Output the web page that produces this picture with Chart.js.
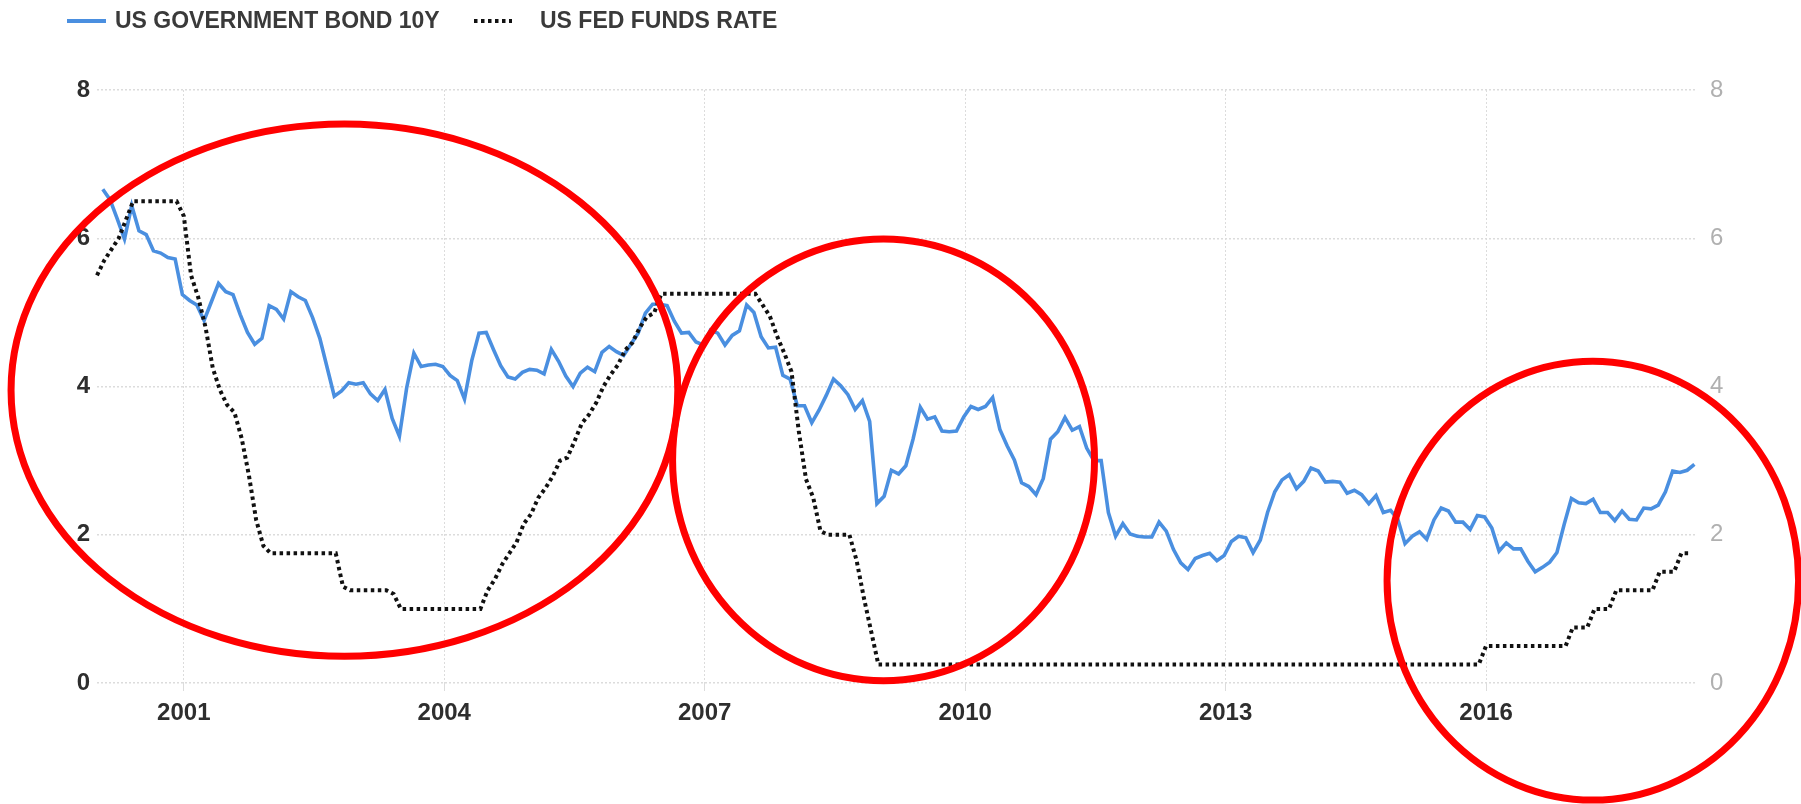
<!DOCTYPE html>
<html>
<head>
<meta charset="utf-8">
<script src="https://cdn.jsdelivr.net/npm/chart.js@4.4.1/dist/chart.umd.min.js"></script>
<style>
  html, body { margin: 0; padding: 0; background: #ffffff; }
  #wrap { width: 1801px; height: 804px; position: relative; }
  canvas { display: block; }
</style>
</head>
<body>
<div id="wrap"><canvas id="c" width="1801" height="804"></canvas></div>
<script>
// ---------- data ----------
const startYear = 2000;            // first month: Jan 2000, monthly values
const seriesNames = ['US GOVERNMENT BOND 10Y', 'US FED FUNDS RATE'];
const xTickLabels = ['2001', '2004', '2007', '2010', '2013', '2016'];
const yTickValues = [0, 2, 4, 6, 8];

// US 10Y government bond yield, monthly (Jan 2000 .. May 2018)
const bond10y = [
  6.66, 6.52, 6.26, 5.99, 6.44, 6.10, 6.05, 5.83, 5.80, 5.74, 5.72, 5.24,
  5.16, 5.10, 4.89, 5.14, 5.39, 5.28, 5.24, 4.97, 4.73, 4.57, 4.65, 5.09,
  5.04, 4.91, 5.28, 5.21, 5.16, 4.93, 4.65, 4.26, 3.87, 3.94, 4.05, 4.03,
  4.05, 3.90, 3.81, 3.96, 3.57, 3.33, 3.98, 4.45, 4.27, 4.29, 4.30, 4.27,
  4.15, 4.08, 3.83, 4.35, 4.72, 4.73, 4.50, 4.28, 4.13, 4.10, 4.19, 4.23,
  4.22, 4.17, 4.50, 4.34, 4.14, 4.00, 4.18, 4.26, 4.20, 4.46, 4.54, 4.47,
  4.42, 4.57, 4.72, 4.99, 5.11, 5.11, 5.09, 4.88, 4.72, 4.73, 4.60, 4.56,
  4.76, 4.72, 4.56, 4.69, 4.75, 5.10, 5.00, 4.67, 4.52, 4.53, 4.15, 4.10,
  3.74, 3.74, 3.51, 3.68, 3.88, 4.10, 4.01, 3.89, 3.69, 3.81, 3.53, 2.42,
  2.52, 2.87, 2.82, 2.93, 3.29, 3.72, 3.56, 3.59, 3.40, 3.39, 3.40, 3.59,
  3.73, 3.69, 3.73, 3.85, 3.42, 3.20, 3.01, 2.70, 2.65, 2.54, 2.76, 3.29,
  3.39, 3.58, 3.41, 3.46, 3.17, 3.00, 3.00, 2.30, 1.98, 2.15, 2.01, 1.98,
  1.97, 1.97, 2.17, 2.05, 1.80, 1.62, 1.53, 1.68, 1.72, 1.75, 1.65, 1.72,
  1.91, 1.98, 1.96, 1.76, 1.93, 2.30, 2.58, 2.74, 2.81, 2.62, 2.72, 2.90,
  2.86, 2.71, 2.72, 2.71, 2.56, 2.60, 2.54, 2.42, 2.53, 2.30, 2.33, 2.21,
  1.88, 1.98, 2.04, 1.94, 2.20, 2.36, 2.32, 2.17, 2.17, 2.07, 2.26, 2.24,
  2.09, 1.78, 1.89, 1.81, 1.81, 1.64, 1.50, 1.56, 1.63, 1.76, 2.14, 2.49,
  2.43, 2.42, 2.48, 2.30, 2.30, 2.19, 2.32, 2.21, 2.20, 2.36, 2.35, 2.40,
  2.58, 2.86, 2.84, 2.87, 2.95
];

// US Fed funds rate, monthly (Jan 2000 .. May 2018)
const fedFunds = [
  5.50, 5.70, 5.85, 6.00, 6.25, 6.50, 6.50, 6.50, 6.50, 6.50, 6.50, 6.50,
  6.30, 5.50, 5.20, 4.80, 4.25, 3.95, 3.75, 3.65, 3.30, 2.80, 2.20, 1.85,
  1.75, 1.75, 1.75, 1.75, 1.75, 1.75, 1.75, 1.75, 1.75, 1.75, 1.30, 1.25,
  1.25, 1.25, 1.25, 1.25, 1.25, 1.20, 1.00, 1.00, 1.00, 1.00, 1.00, 1.00,
  1.00, 1.00, 1.00, 1.00, 1.00, 1.00, 1.25, 1.40, 1.60, 1.75, 1.90, 2.15,
  2.28, 2.50, 2.63, 2.79, 3.00, 3.04, 3.26, 3.50, 3.62, 3.78, 4.00, 4.16,
  4.29, 4.49, 4.59, 4.79, 4.94, 4.99, 5.25, 5.25, 5.25, 5.25, 5.25, 5.25,
  5.25, 5.25, 5.25, 5.25, 5.25, 5.25, 5.25, 5.25, 5.10, 4.95, 4.68, 4.45,
  4.20, 3.40, 2.75, 2.50, 2.05, 2.00, 2.00, 2.00, 2.00, 1.65, 1.15, 0.70,
  0.25, 0.25, 0.25, 0.25, 0.25, 0.25, 0.25, 0.25, 0.25, 0.25, 0.25, 0.25,
  0.25, 0.25, 0.25, 0.25, 0.25, 0.25, 0.25, 0.25, 0.25, 0.25, 0.25, 0.25,
  0.25, 0.25, 0.25, 0.25, 0.25, 0.25, 0.25, 0.25, 0.25, 0.25, 0.25, 0.25,
  0.25, 0.25, 0.25, 0.25, 0.25, 0.25, 0.25, 0.25, 0.25, 0.25, 0.25, 0.25,
  0.25, 0.25, 0.25, 0.25, 0.25, 0.25, 0.25, 0.25, 0.25, 0.25, 0.25, 0.25,
  0.25, 0.25, 0.25, 0.25, 0.25, 0.25, 0.25, 0.25, 0.25, 0.25, 0.25, 0.25,
  0.25, 0.25, 0.25, 0.25, 0.25, 0.25, 0.25, 0.25, 0.25, 0.25, 0.25, 0.25,
  0.50, 0.50, 0.50, 0.50, 0.50, 0.50, 0.50, 0.50, 0.50, 0.50, 0.50, 0.50,
  0.75, 0.75, 0.75, 1.00, 1.00, 1.00, 1.25, 1.25, 1.25, 1.25, 1.25, 1.25,
  1.50, 1.50, 1.50, 1.75, 1.75
];

// red hand-drawn highlight ellipses, in data units (x: year, y: percent)
const highlightCenterX = [2002.85, 2009.06, 2017.23];
const highlightCenterY = [3.95, 3.01, 1.38];
const highlightRadiusX = [3.84, 2.43, 2.37];
const highlightRadiusY = [3.59, 2.98, 2.96];

// ---------- build ----------
const bondPoints = bond10y.map((v, i) => ({ x: startYear + (i + 0.8) / 12, y: v }));
const fedPoints = fedFunds.map((v, i) => ({ x: startYear + i / 12, y: v }));

const FONT = "'Liberation Sans', Arial, sans-serif";
const BLUE = '#4a8fe0';

const overlay = {
  id: 'overlay',
  afterDraw(chart) {
    const ctx = chart.ctx;
    const xs = chart.scales.x, ys = chart.scales.y;
    // legend
    ctx.save();
    ctx.font = 'bold 23px ' + FONT;
    ctx.fillStyle = '#3a3a3a';
    ctx.textBaseline = 'middle';
    ctx.lineCap = 'butt';
    ctx.strokeStyle = BLUE; ctx.lineWidth = 4; ctx.setLineDash([]);
    ctx.beginPath(); ctx.moveTo(67, 21); ctx.lineTo(106, 21); ctx.stroke();
    ctx.fillText(seriesNames[0], 115, 22);
    ctx.strokeStyle = '#111111'; ctx.lineWidth = 4; ctx.setLineDash([3.5, 3.5]);
    ctx.beginPath(); ctx.moveTo(474, 21); ctx.lineTo(512, 21); ctx.stroke();
    ctx.setLineDash([]);
    ctx.fillText(seriesNames[1], 540, 22);
    ctx.restore();
    // highlight ellipses
    ctx.save();
    ctx.strokeStyle = '#ff0000';
    ctx.lineWidth = 7;
    highlightCenterX.forEach((cx, i) => {
      const px = xs.getPixelForValue(cx);
      const py = ys.getPixelForValue(highlightCenterY[i]);
      const rx = Math.abs(xs.getPixelForValue(cx + highlightRadiusX[i]) - px);
      const ry = Math.abs(ys.getPixelForValue(highlightCenterY[i] + highlightRadiusY[i]) - py);
      ctx.beginPath();
      ctx.ellipse(px, py, rx, ry, 0, 0, Math.PI * 2);
      ctx.stroke();
    });
    ctx.restore();
  }
};

new Chart(document.getElementById('c'), {
  type: 'line',
  data: {
    datasets: [
      {
        label: seriesNames[0], data: bondPoints, borderColor: BLUE, backgroundColor: BLUE,
        borderWidth: 3.6, pointRadius: 0, tension: 0, order: 1, yAxisID: 'y', clip: false
      },
      {
        label: seriesNames[1], data: fedPoints, borderColor: '#111111', backgroundColor: '#111111',
        borderWidth: 4, borderDash: [3.5, 3.5], pointRadius: 0, tension: 0, order: 0, yAxisID: 'y', clip: false
      }
    ]
  },
  options: {
    responsive: false,
    animation: false,
    devicePixelRatio: 1,
    layout: { padding: { top: 90, left: 0, right: 0, bottom: 0 } },
    plugins: { legend: { display: false }, tooltip: { enabled: false } },
    scales: {
      x: {
        type: 'linear', min: 2000, max: 2018.43,
        afterBuildTicks: (s) => { s.ticks = xTickLabels.map(l => ({ value: Number(l) })); },
        afterFit: (s) => { s.height = 121; },
        ticks: {
          autoSkip: false, maxRotation: 0, padding: 8, color: '#2e2e2e',
          font: { family: FONT, size: 24, weight: 'bold' },
          callback: (v) => xTickLabels.find(l => Number(l) === v) || ''
        },
        grid: { color: '#dcdcdc', lineWidth: 1, drawTicks: true, tickLength: 8, tickColor: '#dcdcdc' },
        border: { display: false, dash: [2, 2] }
      },
      y: {
        position: 'left', min: 0, max: 8,
        afterBuildTicks: (s) => { s.ticks = yTickValues.map(v => ({ value: v })); },
        afterFit: (s) => { s.width = 97; },
        ticks: { padding: 7, color: '#2e2e2e', font: { family: FONT, size: 24, weight: 'bold' } },
        grid: { color: '#dcdcdc', lineWidth: 1.5, drawTicks: false },
        border: { display: false, dash: [2, 2] }
      },
      y2: {
        position: 'right', min: 0, max: 8,
        afterBuildTicks: (s) => { s.ticks = yTickValues.map(v => ({ value: v })); },
        afterFit: (s) => { s.width = 104; },
        ticks: { padding: 5, color: '#b0b0b0', font: { family: FONT, size: 24 } },
        grid: { display: false },
        border: { display: false }
      }
    }
  },
  plugins: [overlay]
});
</script>
</body>
</html>
